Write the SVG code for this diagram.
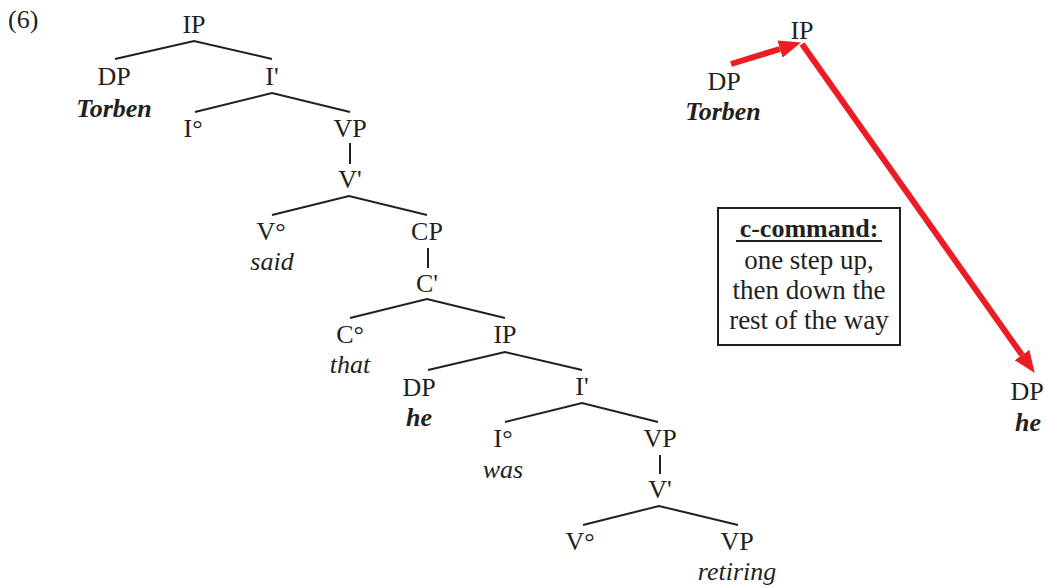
<svg xmlns="http://www.w3.org/2000/svg" width="1046" height="587" viewBox="0 0 1046 587">
<style>
text{font-family:"Liberation Serif","Times New Roman",serif;font-size:26px;fill:#231f20;text-anchor:middle}
.i{font-style:italic}
.b{font-weight:bold}
.l{text-anchor:start}
.k{font-size:27px}
.e{stroke:#231f20;stroke-width:2;fill:none}
.r{stroke:#ed1c24;stroke-width:6;fill:none}
</style>
<defs>
<marker id="ah" markerUnits="userSpaceOnUse" markerWidth="22" markerHeight="18" refX="0" refY="9" orient="auto" viewBox="0 0 22 18">
<path d="M0,0 L22,9 L0,18 z" fill="#ed1c24"/>
</marker>
</defs>
<text class="l" x="8" y="28">(6)</text>
<g id="connectors">
<path class="e" d="M115,59 L194,41 L272,59"/>
<path class="e" d="M195,112 L272,93 L350,112"/>
<path class="e" d="M350,143 L350,164"/>
<path class="e" d="M272,215 L349,196 L427,215"/>
<path class="e" d="M428,248 L428,268"/>
<path class="e" d="M350,318 L427,299 L505,318"/>
<path class="e" d="M428,370 L505,352 L582,370"/>
<path class="e" d="M505,422 L582,403 L658,422"/>
<path class="e" d="M660,455 L660,474"/>
<path class="e" d="M583,525 L659,506 L738,525"/>
<line class="r" x1="731" y1="64" x2="780" y2="49" marker-end="url(#ah)"/>
<line class="r" x1="802" y1="44" x2="1022" y2="355" marker-end="url(#ah)"/>
</g>
<g id="n-ip1"><text x="194" y="33">IP</text></g>
<g id="n-dp1"><text x="114" y="85">DP</text><text class="i b" x="114" y="117">Torben</text></g>
<g id="n-ibar1"><text x="272" y="85">I'</text></g>
<g id="n-i1"><text x="193" y="137">I°</text></g>
<g id="n-vp1"><text x="350" y="137">VP</text></g>
<g id="n-vbar1"><text x="350" y="188">V'</text></g>
<g id="n-v1"><text x="271" y="240">V°</text><text class="i" x="272" y="270">said</text></g>
<g id="n-cp"><text x="427" y="240">CP</text></g>
<g id="n-cbar"><text x="427" y="292">C'</text></g>
<g id="n-c"><text x="350" y="343">C°</text><text class="i" x="350" y="373">that</text></g>
<g id="n-ip2"><text x="505" y="343">IP</text></g>
<g id="n-dp2"><text x="419" y="396">DP</text><text class="i b" x="419" y="426">he</text></g>
<g id="n-ibar2"><text x="582" y="395">I'</text></g>
<g id="n-i2"><text x="503" y="447">I°</text><text class="i" x="503" y="478">was</text></g>
<g id="n-vp2"><text x="660" y="447">VP</text></g>
<g id="n-vbar2"><text x="660" y="498">V'</text></g>
<g id="n-v2"><text x="580" y="550">V°</text></g>
<g id="n-vp3"><text x="737" y="550">VP</text><text class="i" x="737" y="580">retiring</text></g>
<g id="r-ip"><text x="802" y="39">IP</text></g>
<g id="r-dp1"><text x="724" y="90">DP</text><text class="i b" x="723" y="120">Torben</text></g>
<g id="r-dp2"><text x="1027" y="400">DP</text><text class="i b" x="1028" y="431">he</text></g>
<g id="box">
<rect x="718" y="208" width="182" height="137" fill="none" stroke="#231f20" stroke-width="2"/>
<text class="b" x="809" y="237">c-command:</text>
<line x1="736" y1="241" x2="882" y2="241" stroke="#231f20" stroke-width="2"/>
<text class="k" x="809" y="269">one step up,</text>
<text class="k" x="809" y="299">then down the</text>
<text class="k" x="809" y="329">rest of the way</text>
</g>
</svg>
